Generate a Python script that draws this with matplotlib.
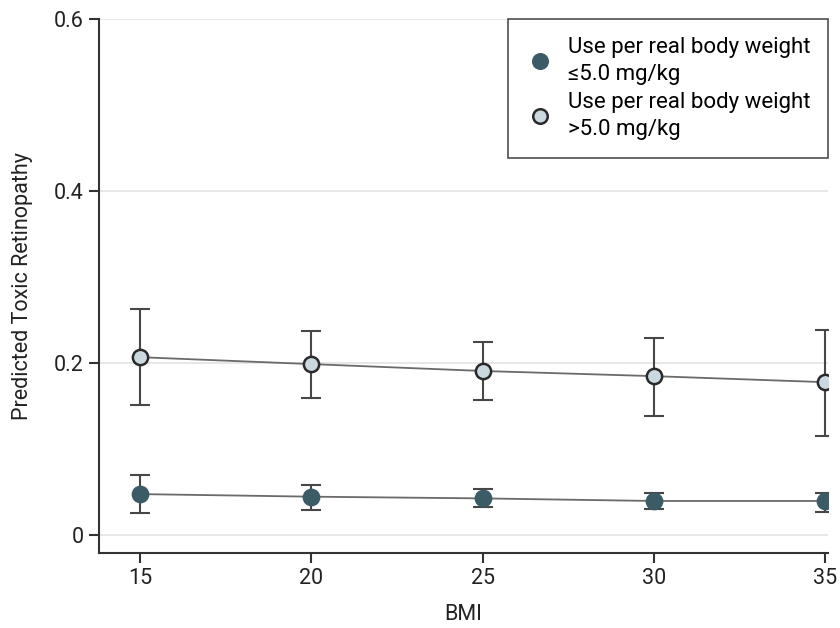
import matplotlib.pyplot as plt
import numpy as np

plt.rcParams['font.family'] = ['Roboto', 'DejaVu Sans']

# ---- Data ----
bmi = [15, 20, 25, 30, 35]

low_est = [0.048, 0.045, 0.043, 0.040, 0.040]
low_lo = [0.026, 0.029, 0.033, 0.031, 0.027]
low_hi = [0.070, 0.059, 0.054, 0.049, 0.049]

high_est = [0.207, 0.199, 0.191, 0.185, 0.178]
high_lo = [0.151, 0.160, 0.157, 0.139, 0.116]
high_hi = [0.263, 0.238, 0.225, 0.229, 0.239]

labels = ["Use per real body weight\n\u22645.0 mg/kg",
          "Use per real body weight\n>5.0 mg/kg"]
yticks = [0, 0.2, 0.4, 0.6]
ytick_labels = ["0", "0.2", "0.4", "0.6"]

dark = "#3b5b67"
light = "#c9d9df"
edge = "#2a2a2a"
bar_col = "#474747"

fig = plt.figure(figsize=(8.4, 6.28), dpi=100)
ax = fig.add_axes([0.118, 0.12, 0.868, 0.85])

for yv in yticks:
    ax.axhline(yv, color="#e3e3e3", lw=1.2, zorder=0)

series = [
    (low_est, low_lo, low_hi, dark, dark, labels[0]),
    (high_est, high_lo, high_hi, light, edge, labels[1]),
]
for est, lo, hi, fc, ec, lab in series:
    est = np.array(est)
    yerr = [est - np.array(lo), np.array(hi) - est]
    ax.plot(bmi, est, color="#6a6a6a", lw=1.3, zorder=1)
    ax.errorbar(bmi, est, yerr=yerr, fmt="none", ecolor=bar_col,
                elinewidth=1.5, capsize=7.5, capthick=1.5, zorder=2)
    ax.plot(bmi, est, "o", ms=11, mfc=fc, mec=ec, mew=1.8,
            ls="none", label=lab, zorder=3)

ax.set_xlim(13.8, 35.1)
ax.set_ylim(-0.02, 0.6)
ax.set_xticks(bmi)
ax.set_yticks(yticks)
ax.set_yticklabels(ytick_labels)

for s in ["top", "right"]:
    ax.spines[s].set_visible(False)
for s in ["left", "bottom"]:
    ax.spines[s].set_color("#333333")
    ax.spines[s].set_linewidth(1.5)

ax.tick_params(direction="out", length=7, width=1.5, color="#333333",
               labelsize=15.5, labelcolor="#222222", pad=4)
ax.set_xlabel("BMI", fontsize=15.5, color="#222222", labelpad=11)
ax.set_ylabel("Predicted Toxic Retinopathy", fontsize=15.5, color="#222222",
              labelpad=15)

leg = ax.legend(loc="upper right", bbox_to_anchor=(1.0, 1.0), fontsize=16,
                frameon=True, fancybox=False, handletextpad=0.6,
                borderpad=0.8, labelspacing=0.3, handlelength=1.3,
                borderaxespad=0.0, markerscale=0.95)
for t in leg.get_texts():
    t.set_linespacing(1.4)
leg.get_frame().set_edgecolor("#222222")
leg.get_frame().set_linewidth(1.2)

fig.savefig("out.png", dpi=100)
